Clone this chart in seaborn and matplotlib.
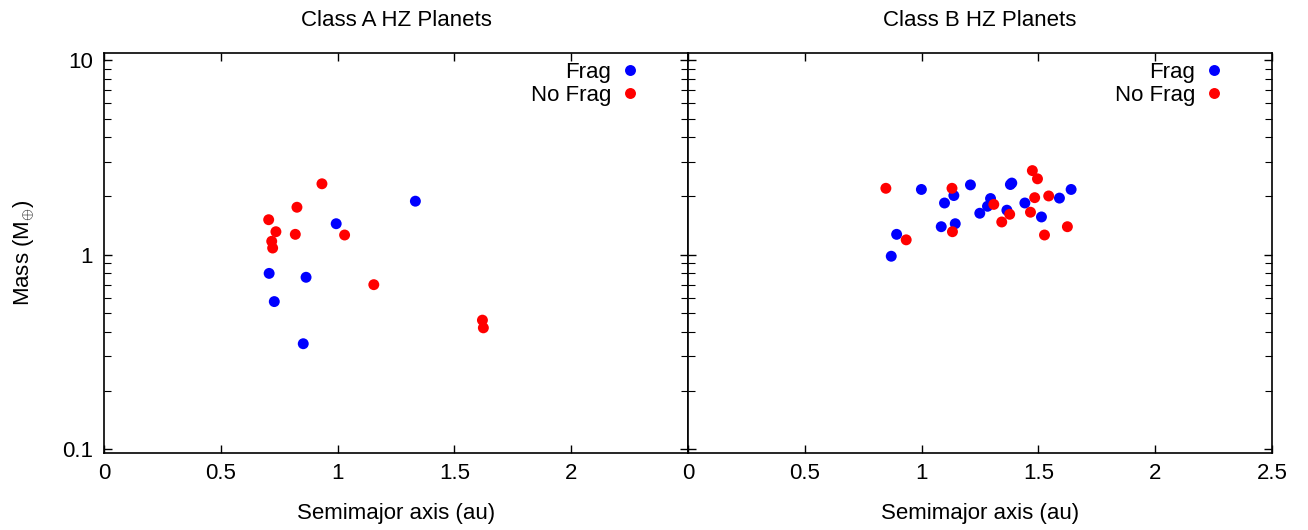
import numpy as np
import pandas as pd
import matplotlib
matplotlib.use('Agg')
import matplotlib.pyplot as plt
import matplotlib.ticker as mticker
import seaborn as sns

# Class A HZ planets
a_frag_x = [1.333, 0.994, 0.707, 0.865, 0.729, 0.853]
a_frag_m = [1.88, 1.44, 0.80, 0.764, 0.573, 0.348]
a_nofrag_x = [0.933, 0.826, 0.705, 0.736, 0.819, 1.03, 0.718, 0.722, 1.155, 1.62, 1.624]
a_nofrag_m = [2.31, 1.75, 1.51, 1.31, 1.27, 1.26, 1.17, 1.08, 0.70, 0.46, 0.42]

# Class B HZ planets
b_frag_x = [0.870, 0.893, 0.999, 1.084, 1.144, 1.098, 1.138, 1.209, 1.249,
            1.282, 1.295, 1.365, 1.380, 1.386, 1.442, 1.513, 1.590, 1.640]
b_frag_m = [0.98, 1.27, 2.16, 1.39, 1.44, 1.84, 2.01, 2.28, 1.63,
            1.77, 1.94, 1.69, 2.29, 2.33, 1.84, 1.56, 1.95, 2.16]
b_nofrag_x = [0.847, 1.13, 0.934, 1.132, 1.309, 1.377, 1.343, 1.474, 1.496,
              1.484, 1.466, 1.544, 1.526, 1.624]
b_nofrag_m = [2.19, 2.19, 1.19, 1.31, 1.81, 1.61, 1.47, 2.70, 2.45,
              1.96, 1.65, 2.00, 1.26, 1.39]

titles = ['Class A HZ Planets', 'Class B HZ Planets']
labels = ['Frag', 'No Frag']
palette = {'Frag': 'blue', 'No Frag': 'red'}


def make_df(fx, fm, nx, nm):
    return pd.DataFrame({
        'a': fx + nx,
        'm': fm + nm,
        'kind': ['Frag'] * len(fx) + ['No Frag'] * len(nx),
    })


sns.set_style('ticks')
plt.rcParams['font.family'] = ['Liberation Sans', 'DejaVu Sans']
plt.rcParams['mathtext.fontset'] = 'custom'
plt.rcParams['mathtext.rm'] = 'Liberation Sans'
plt.rcParams['text.color'] = 'black'
plt.rcParams['axes.labelcolor'] = 'black'
plt.rcParams['xtick.labelcolor'] = 'black'
plt.rcParams['ytick.labelcolor'] = 'black'
FS = 16

fig, axes = plt.subplots(1, 2, figsize=(13.08, 5.3), dpi=100, sharey=True)
fig.subplots_adjust(left=0.0795, right=0.9725, top=0.9006, bottom=0.1453, wspace=0)

dfs = [make_df(a_frag_x, a_frag_m, a_nofrag_x, a_nofrag_m),
       make_df(b_frag_x, b_frag_m, b_nofrag_x, b_nofrag_m)]

for i, (ax, df) in enumerate(zip(axes, dfs)):
    sns.scatterplot(data=df, x='a', y='m', hue='kind', hue_order=labels,
                    palette=palette, s=62, linewidth=0, ax=ax, legend=True)
    ax.set_yscale('log')
    ax.set_xlim(0, 2.5)
    ax.set_ylim(0.0955, 10.9)
    ax.set_title(titles[i], fontsize=FS, pad=19, color='black')
    ax.set_xlabel('Semimajor axis (au)', fontsize=FS, labelpad=14)
    ax.set_ylabel('Mass (M$_{\\oplus}$)' if i == 0 else '', fontsize=FS, labelpad=18)

    ax.xaxis.set_major_locator(mticker.MultipleLocator(0.5))
    ax.xaxis.set_major_formatter(mticker.FuncFormatter(lambda v, p: '%g' % v))
    ax.yaxis.set_major_locator(mticker.FixedLocator([0.1, 1, 10]))
    ax.yaxis.set_major_formatter(mticker.FuncFormatter(lambda v, p: '%g' % v))
    ax.yaxis.set_minor_locator(mticker.LogLocator(base=10, subs=np.arange(2, 10)))
    ax.yaxis.set_minor_formatter(mticker.NullFormatter())
    ax.tick_params(which='both', direction='in', top=True, right=True,
                   labelsize=FS, color='black')
    ax.tick_params(axis='x', which='major', pad=7)
    ax.tick_params(axis='y', which='major', pad=8)
    ax.tick_params(which='major', length=6, width=1)
    ax.tick_params(which='minor', length=5, width=0.8)
    if i == 0:
        # hide the 2.5 label on the left panel
        ax.set_xticks([0, 0.5, 1, 1.5, 2, 2.5])
        ax.set_xticklabels(['0', '0.5', '1', '1.5', '2', ''])
    for sp in ax.spines.values():
        sp.set_color('black')
        sp.set_linewidth(1.2)

    handles, lbls = ax.get_legend_handles_labels()
    ax.legend(handles, lbls, loc='upper right', frameon=False, markerfirst=False,
              fontsize=FS, handlelength=1.0, handletextpad=0.35, labelspacing=0.12,
              borderaxespad=0, borderpad=0.4, bbox_to_anchor=(0.935, 1.0))

fig.savefig('out.png', dpi=100)
